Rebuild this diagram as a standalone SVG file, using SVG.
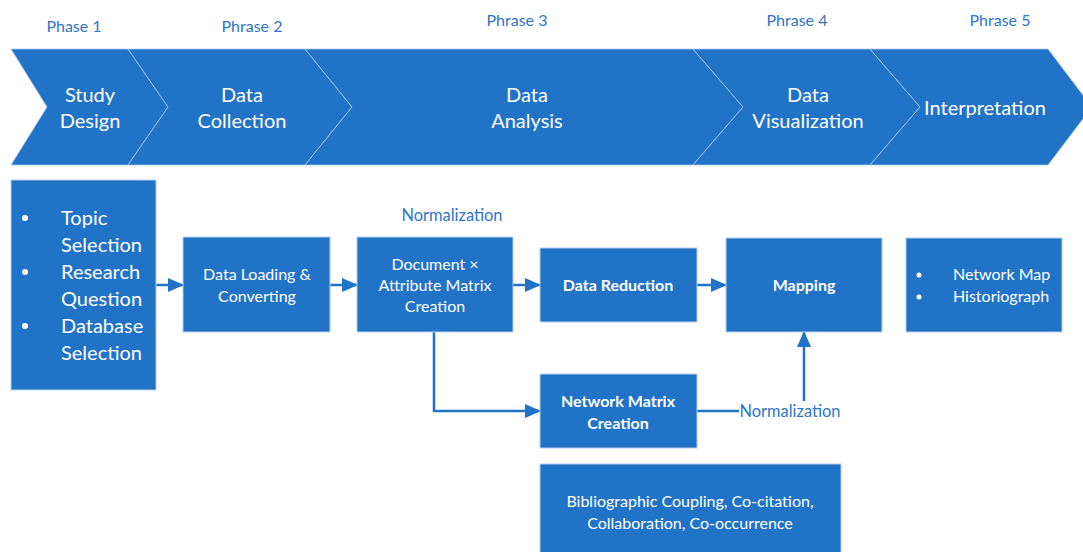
<svg xmlns="http://www.w3.org/2000/svg" width="1083" height="552" viewBox="0 0 1083 552">
  <style>
    text { font-family: Lato, "Open Sans", "Liberation Sans", sans-serif; }
    .phase { fill: #2f75c8; font-size: 16px; text-anchor: middle; }
    .chev { fill: #2173c8; stroke: #a9c6ea; stroke-width: 0.8; }
    .chev-t { fill: #ffffff; font-size: 20px; text-anchor: middle; }
    .box { fill: #2173c8; stroke: #b6cfee; stroke-width: 1; }
    .bt { fill: #ffffff; font-size: 16px; text-anchor: middle; }
    .bl { fill: #ffffff; font-size: 16px; text-anchor: start; }
    .bb { fill: #ffffff; font-size: 16px; font-weight: bold; text-anchor: middle; }
    .big { fill: #ffffff; font-size: 20px; }
    .lbl { fill: #2f75c8; font-size: 16.4px; text-anchor: middle; }
    .conn { stroke: #2173c8; stroke-width: 2.5; fill: none; }
  </style>
  <defs>
    <marker id="arr" viewBox="0 0 16 14" refX="15" refY="7" markerWidth="16" markerHeight="14" markerUnits="userSpaceOnUse" orient="auto">
      <path d="M0,0 L16,7 L0,14 Z" fill="#2173c8"/>
    </marker>
  </defs>

  <rect width="1083" height="552" fill="#ffffff"/>

  <!-- phase captions -->
  <g id="phase-labels">
    <text class="phase" x="74" y="32">Phase 1</text>
    <text class="phase" x="252" y="32">Phrase 2</text>
    <text class="phase" x="517" y="26">Phrase 3</text>
    <text class="phase" x="797" y="26">Phrase 4</text>
    <text class="phase" x="1000" y="26">Phrase 5</text>
  </g>

  <!-- process chevrons -->
  <g id="chevron-study-design">
    <polygon class="chev" points="11,49 128,49 168,107 128,165 11,165 47,107"/>
    <text class="chev-t" x="90" y="102">Study</text>
    <text class="chev-t" x="90" y="128">Design</text>
  </g>
  <g id="chevron-data-collection">
    <polygon class="chev" points="128,49 305,49 352,107 305,165 128,165 168,107"/>
    <text class="chev-t" x="242" y="102">Data</text>
    <text class="chev-t" x="242" y="128">Collection</text>
  </g>
  <g id="chevron-data-analysis">
    <polygon class="chev" points="305,49 693,49 743,107 693,165 305,165 352,107"/>
    <text class="chev-t" x="527" y="102">Data</text>
    <text class="chev-t" x="527" y="128">Analysis</text>
  </g>
  <g id="chevron-data-visualization">
    <polygon class="chev" points="693,49 870,49 920,107 870,165 693,165 743,107"/>
    <text class="chev-t" x="808" y="102">Data</text>
    <text class="chev-t" x="808" y="128">Visualization</text>
  </g>
  <g id="chevron-interpretation">
    <polygon class="chev" points="870,49 1048,49 1092,107 1048,165 870,165 920,107"/>
    <text class="chev-t" x="985" y="115">Interpretation</text>
  </g>

  <!-- connectors -->
  <g id="connectors">
    <line class="conn" x1="156" y1="285" x2="183" y2="285" marker-end="url(#arr)"/>
    <line class="conn" x1="330" y1="285" x2="357" y2="285" marker-end="url(#arr)"/>
    <line class="conn" x1="513" y1="285" x2="540" y2="285" marker-end="url(#arr)"/>
    <line class="conn" x1="697" y1="285" x2="726" y2="285" marker-end="url(#arr)"/>
    <polyline class="conn" points="434,332 434,411 540,411" marker-end="url(#arr)"/>
    <line class="conn" x1="697" y1="411" x2="739" y2="411"/>
    <line class="conn" x1="804" y1="401" x2="804" y2="332" marker-end="url(#arr)"/>
    <text class="lbl" x="452" y="221">Normalization</text>
    <text class="lbl" x="790" y="417">Normalization</text>
  </g>

  <!-- study design items -->
  <g id="node-study-items">
    <rect class="box" x="11" y="180" width="145" height="210"/>
    <circle cx="25" cy="218" r="3" fill="#ffffff"/>
    <circle cx="25" cy="272" r="3" fill="#ffffff"/>
    <circle cx="25" cy="326" r="3" fill="#ffffff"/>
    <text class="big" x="61" y="225">Topic</text>
    <text class="big" x="61" y="252">Selection</text>
    <text class="big" x="61" y="279">Research</text>
    <text class="big" x="61" y="306">Question</text>
    <text class="big" x="61" y="333">Database</text>
    <text class="big" x="61" y="360">Selection</text>
  </g>

  <g id="node-data-loading">
    <rect class="box" x="183" y="237" width="147" height="95"/>
    <text class="bt" x="257" y="280">Data Loading &amp;</text>
    <text class="bt" x="257" y="302">Converting</text>
  </g>

  <g id="node-doc-attr-matrix">
    <rect class="box" x="357" y="237" width="156" height="95"/>
    <text class="bt" x="435" y="270">Document ×</text>
    <text class="bt" x="435" y="291">Attribute Matrix</text>
    <text class="bt" x="435" y="312">Creation</text>
  </g>

  <g id="node-data-reduction">
    <rect class="box" x="540" y="248" width="157" height="74"/>
    <text class="bb" x="618" y="291">Data Reduction</text>
  </g>

  <g id="node-mapping">
    <rect class="box" x="726" y="238" width="156" height="94"/>
    <text class="bb" x="804" y="291">Mapping</text>
  </g>

  <g id="node-outputs">
    <rect class="box" x="906" y="238" width="156" height="94"/>
    <circle cx="919" cy="275" r="2.5" fill="#ffffff"/>
    <circle cx="919" cy="297" r="2.5" fill="#ffffff"/>
    <text class="bl" x="953" y="280">Network Map</text>
    <text class="bl" x="953" y="302">Historiograph</text>
  </g>

  <g id="node-network-matrix">
    <rect class="box" x="540" y="374" width="157" height="74"/>
    <text class="bb" x="618" y="407">Network Matrix</text>
    <text class="bb" x="618" y="429">Creation</text>
  </g>

  <g id="node-network-types">
    <rect class="box" x="540" y="464" width="301" height="92"/>
    <text class="bt" x="690" y="507">Bibliographic Coupling, Co-citation,</text>
    <text class="bt" x="690" y="529">Collaboration, Co-occurrence</text>
  </g>
</svg>
